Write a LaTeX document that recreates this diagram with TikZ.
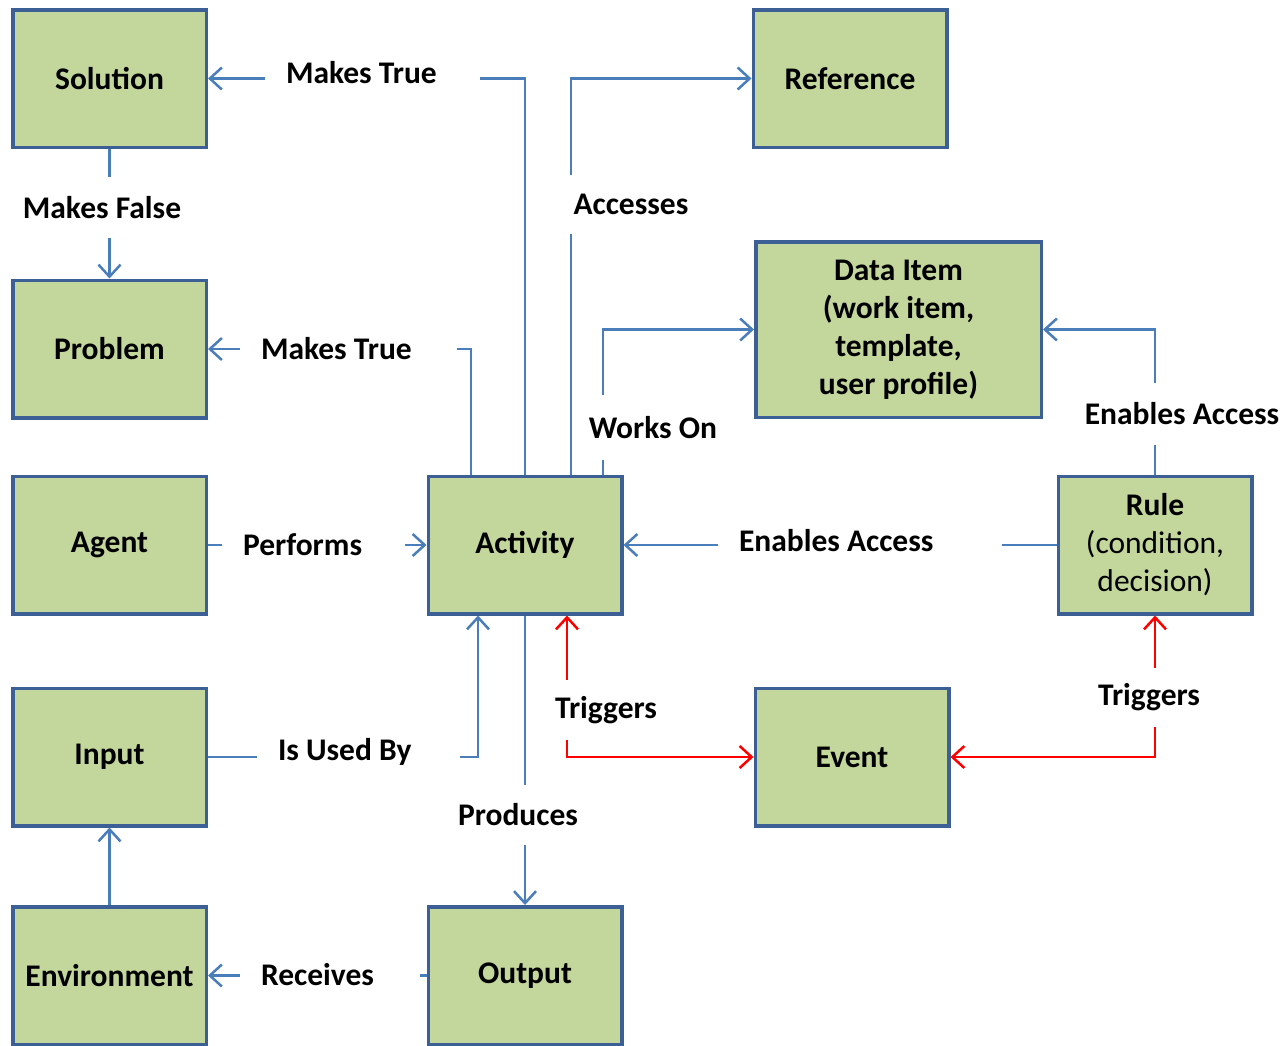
\documentclass[tikz,border=0pt]{standalone}
\usepackage{fontspec}
\setmainfont{Carlito}
\usetikzlibrary{arrows.meta}
\definecolor{boxfill}{HTML}{C3D69B}
\definecolor{boxline}{HTML}{3C6095}
\definecolor{linkblue}{HTML}{4A7EBB}

\begin{document}
\begin{tikzpicture}[x=1pt,y=-1pt,
    box/.style={draw=boxline,fill=boxfill,line width=3.5pt,minimum width=193.5pt,minimum height=137.5pt,
      font=\bfseries\fontsize{31.5}{38}\selectfont,align=center},
    link/.style={draw=linkblue,line width=2.5pt,-{Straight Barb[length=12pt,width=22pt]}},
    trig/.style={draw=red,line width=2.5pt,{Straight Barb[length=12pt,width=22pt]}-{Straight Barb[length=12pt,width=22pt]}},
    lbl/.style={fill=white,font=\bfseries\fontsize{31.5}{36}\selectfont,inner xsep=21pt,inner ysep=0pt,align=flush left,text width=#1},
    vlbl/.style={fill=white,font=\bfseries\fontsize{31.5}{36}\selectfont,inner xsep=4pt,inner ysep=0pt,minimum height=#1}]
                    \clip (0,0) rectangle (1287,1045);
                    % boxes
                    \node[box] (sol) at (109.5,78.5) {Solution};
                    \node[box] (prob) at (109.5,349) {Problem};
                    \node[box] (agent) at (109.5,545) {Agent};
                    \node[box] (input) at (109.5,757) {Input};
                    \node[box] (env) at (109.5,975.5) {Environment};
                    \node[box] (act) at (525,545) {Activity};
                    \node[box] (out) at (525,975.5) {Output};
                    \node[box] (ref) at (850,78.5) {Reference};
                    \node[box,minimum width=285.5pt,minimum height=175.5pt] (data) at (898.5,329.5) {Data Item\\(work item,\\template,\\user profile)};
                    \node[box] (rule) at (1155,545) {Rule\\{\mdseries (condition,}\\{\mdseries decision)}};
                    \node[box] (event) at (852,757) {Event};
                    % connectors
                    \draw[link] (act.north) |- (sol.east);
                    \draw[link] (sol.south) -- (prob.north);
                    \draw[link] ([xshift=-54pt]act.north) |- (prob.east);
                    \draw[link] ([xshift=46pt]act.north) |- (ref.west);
                    \draw[link] ([xshift=78pt]act.north) |- (data.west);
                    \draw[link] (agent.east) -- (act.west);
                    \draw[link] (input.east) -| ([xshift=-47pt]act.south);
                    \draw[link] (act.south) -- (out.north);
                    \draw[link] (out.west) -- (env.east);
                    \draw[link] (env.north) -- (input.south);
                    \draw[link] (rule.west) -- (act.east);
                    \draw[link] (rule.north) |- (data.east);
                    \draw[trig] ([xshift=42pt]act.south) |- (event.west);
                    \draw[trig] (event.east) -| (rule.south);
                    % labels
                    \node[lbl=173pt] (mtrue1) at (372.5,73) {Makes True};
                    \node[lbl=175pt] (mtrue2) at (348.5,349) {Makes True};
                    \node[lbl=141pt] (perf) at (313.5,545) {Performs};
                    \node[lbl=161pt] (used) at (358.5,752) {Is Used By};
                    \node[lbl=138pt] (recv) at (330,975) {Receives};
                    \node[lbl=242pt] (enab1) at (860,541) {Enables Access};
                    \node[vlbl=61pt] (mfalse) at (102,207.5) {Makes False};
                    \node[vlbl=59pt] (acc) at (631,204.5) {Accesses};
                    \node[vlbl=65pt] (works) at (653,427.5) {Works On};
                    \node[vlbl=60pt] (prod) at (518,815) {Produces};
                    \node[vlbl=60pt] (trig1) at (606,710) {Triggers};
                    \node[vlbl=59pt] (trig2) at (1149,697.5) {Triggers};
                    \node[vlbl=62pt] (enab2) at (1182,414) {Enables Access};
                \end{tikzpicture}
\end{document}
